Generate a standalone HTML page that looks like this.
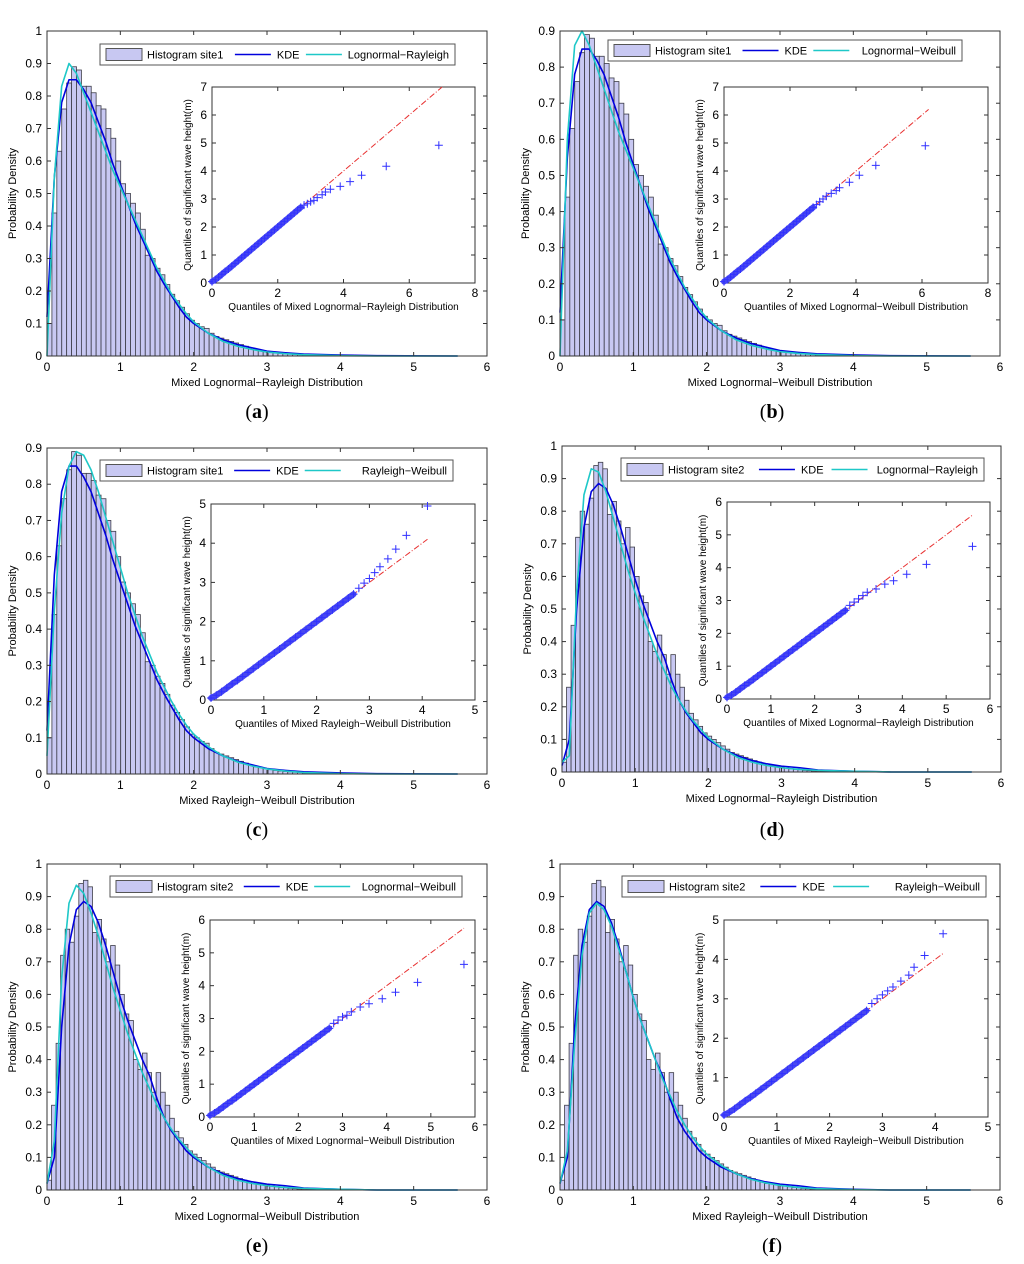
<!DOCTYPE html>
<html><head><meta charset="utf-8"><style>
body{margin:0;background:#fff;}
svg{display:block;font-family:"Liberation Sans",sans-serif;}
.cap{font-family:"Liberation Serif",serif;font-size:20px;}
</style></head><body>
<svg id="fig" width="1024" height="1264" viewBox="0 0 1024 1264"></svg>
<script>
// ---- data ----
const binWidthSite1 = 0.067;
const binWidthSite2 = 0.062;
const histSite1 = [0.10,0.44,0.63,0.76,0.84,0.89,0.88,0.83,0.83,0.81,0.77,0.76,0.70,0.67,0.60,0.53,0.50,0.47,0.44,0.39,0.31,0.30,0.27,0.25,0.22,0.19,0.17,0.15,0.13,0.11,0.10,0.09,0.085,0.07,0.06,0.055,0.05,0.045,0.04,0.035,0.03,0.025,0.02,0.018,0.015,0.012,0.01,0.008,0.007,0.006,0.005,0.004,0.003,0.003,0.002,0.002,0.002,0.001,0.001,0.001,0.001];
const histSite2 = [0.03,0.26,0.45,0.72,0.80,0.76,0.84,0.94,0.95,0.93,0.79,0.83,0.77,0.70,0.75,0.69,0.60,0.54,0.52,0.40,0.37,0.42,0.36,0.30,0.36,0.30,0.26,0.22,0.18,0.16,0.14,0.12,0.11,0.10,0.09,0.08,0.07,0.06,0.055,0.05,0.045,0.04,0.035,0.03,0.025,0.02,0.02,0.018,0.015,0.012,0.01,0.008,0.007,0.005,0.004,0.003,0.003,0.002,0.002,0.001,0.001,0.001];
const curveX = [0,.1,.2,.3,.4,.5,.6,.7,.8,.9,1,1.1,1.2,1.3,1.4,1.5,1.6,1.7,1.8,1.9,2,2.2,2.4,2.6,2.8,3,3.25,3.5,4,4.5,5.6];
const kde1 = [.12,.55,.78,.85,.85,.82,.78,.72,.66,.59,.53,.47,.41,.36,.31,.26,.22,.185,.15,.12,.10,.07,.05,.035,.025,.015,.01,.006,.003,.001,0];
const kde2 = [.02,.1,.5,.75,.86,.885,.87,.82,.75,.67,.59,.52,.46,.40,.35,.28,.22,.18,.15,.12,.10,.07,.05,.035,.025,.018,.013,.006,.002,0,0];
const fitA = [0,.55,.83,.90,.87,.81,.75,.69,.63,.57,.52,.47,.42,.37,.32,.27,.23,.19,.16,.13,.105,.07,.045,.03,.02,.012,.007,.004,.001,0,0];
const fitB = [0,.6,.86,.90,.86,.80,.74,.68,.62,.57,.52,.47,.42,.37,.32,.27,.23,.19,.16,.13,.105,.07,.045,.03,.02,.012,.007,.004,.001,0,0];
const fitC = [.05,.45,.72,.85,.89,.88,.84,.78,.71,.64,.57,.50,.44,.38,.33,.28,.24,.20,.165,.135,.11,.075,.05,.033,.022,.014,.008,.004,.001,0,0];
const fitD = [.03,.05,.55,.85,.93,.92,.86,.78,.70,.62,.55,.48,.42,.36,.31,.26,.22,.185,.155,.13,.105,.07,.045,.03,.02,.013,.008,.005,.002,0,0];
const fitE = [.02,.15,.65,.88,.935,.91,.85,.78,.70,.62,.55,.48,.42,.36,.31,.26,.22,.185,.155,.13,.105,.07,.045,.03,.02,.013,.008,.005,.002,0,0];
const fitF = [.02,.12,.45,.72,.85,.88,.86,.81,.74,.67,.59,.52,.46,.40,.34,.29,.24,.20,.165,.135,.11,.075,.05,.033,.022,.014,.008,.004,.001,0,0];
const qqDenseX = [0,.1,.2,.3,.4,.5,.6,.7,.8,.9,1,1.1,1.2,1.3,1.4,1.5,1.6,1.7,1.8,1.9,2,2.1,2.2,2.3,2.4,2.5,2.6,2.7];
const qqDenseY = [0.05,.12,.21,.31,.41,.5,.6,.7,.8,.9,1,1.1,1.2,1.3,1.4,1.5,1.6,1.7,1.8,1.9,2,2.1,2.2,2.3,2.4,2.5,2.6,2.7];
const qqTailAx = [2.8,2.9,3.0,3.1,3.2,3.35,3.45,3.6,3.9,4.2,4.55,5.3,6.9];
const qqTailAy = [2.78,2.83,2.9,2.95,3.05,3.15,3.25,3.35,3.45,3.62,3.85,4.17,4.92];
const qqTailBx = [2.8,2.9,3.0,3.1,3.25,3.4,3.5,3.8,4.1,4.6,6.1];
const qqTailBy = [2.8,2.9,3.0,3.1,3.2,3.3,3.4,3.6,3.85,4.2,4.9];
const qqTailCx = [2.8,2.9,3.0,3.1,3.2,3.35,3.5,3.7,4.1];
const qqTailCy = [2.85,2.98,3.1,3.25,3.4,3.6,3.85,4.2,4.95];
const qqTailDx = [2.8,2.9,3.0,3.1,3.2,3.4,3.6,3.8,4.1,4.55,5.6];
const qqTailDy = [2.85,2.95,3.05,3.15,3.25,3.35,3.5,3.6,3.8,4.1,4.65];
const qqTailEx = [2.8,2.9,3.0,3.1,3.2,3.4,3.6,3.9,4.2,4.7,5.75];
const qqTailEy = [2.85,2.95,3.05,3.1,3.2,3.35,3.45,3.6,3.8,4.1,4.65];
const qqTailFx = [2.8,2.9,3.0,3.1,3.2,3.35,3.5,3.6,3.8,4.15];
const qqTailFy = [2.88,3.0,3.1,3.2,3.3,3.45,3.6,3.8,4.1,4.65];

const panels = [
 {id:'a',box:[47,31,487,356],yMax:1,hist:histSite1,bw:binWidthSite1,site:'site1',kde:kde1,fit:fitA,fitName:'Lognormal-Rayleigh',xl:'Mixed Lognormal\u2212Rayleigh Distribution',leg:[100,44,455,65],inset:[212,87,475,283],ix:8,iy:7,tx:qqTailAx,ty:qqTailAy,ref:7,iname:'Quantiles of Mixed Lognormal\u2212Rayleigh Distribution',cap:[257,418]},
 {id:'b',box:[560,31,1000,356],yMax:0.9,hist:histSite1,bw:binWidthSite1,site:'site1',kde:kde1,fit:fitB,fitName:'Lognormal-Weibull',xl:'Mixed Lognormal\u2212Weibull Distribution',leg:[608,40,962,61],inset:[724,87,988,283],ix:8,iy:7,tx:qqTailBx,ty:qqTailBy,ref:6.2,iname:'Quantiles of Mixed Lognormal\u2212Weibull Distribution',cap:[772,418]},
 {id:'c',box:[47,448,487,774],yMax:0.9,hist:histSite1,bw:binWidthSite1,site:'site1',kde:kde1,fit:fitC,fitName:'Rayleigh-Weibull',xl:'Mixed Rayleigh\u2212Weibull Distribution',leg:[100,460,453,481],inset:[211,504,475,700],ix:5,iy:5,tx:qqTailCx,ty:qqTailCy,ref:4.1,iname:'Quantiles of Mixed Rayleigh\u2212Weibull Distribution',cap:[257,836]},
 {id:'d',box:[562,446,1001,772],yMax:1,hist:histSite2,bw:binWidthSite2,site:'site2',kde:kde2,fit:fitD,fitName:'Lognormal-Rayleigh',xl:'Mixed Lognormal\u2212Rayleigh Distribution',leg:[621,458,984,481],inset:[727,502,990,699],ix:6,iy:6,tx:qqTailDx,ty:qqTailDy,ref:5.6,iname:'Quantiles of Mixed Lognormal\u2212Rayleigh Distribution',cap:[772,836]},
 {id:'e',box:[47,864,487,1190],yMax:1,hist:histSite2,bw:binWidthSite2,site:'site2',kde:kde2,fit:fitE,fitName:'Lognormal-Weibull',xl:'Mixed Lognormal\u2212Weibull Distribution',leg:[110,876,462,897],inset:[210,920,475,1117],ix:6,iy:6,tx:qqTailEx,ty:qqTailEy,ref:5.75,iname:'Quantiles of Mixed Lognormal\u2212Weibull Distribution',cap:[257,1252]},
 {id:'f',box:[560,864,1000,1190],yMax:1,hist:histSite2,bw:binWidthSite2,site:'site2',kde:kde2,fit:fitF,fitName:'Rayleigh-Weibull',xl:'Mixed Rayleigh\u2212Weibull Distribution',leg:[622,876,986,897],inset:[724,920,988,1117],ix:5,iy:5,tx:qqTailFx,ty:qqTailFy,ref:4.15,iname:'Quantiles of Mixed Rayleigh\u2212Weibull Distribution',cap:[772,1252]}
];

const NS='http://www.w3.org/2000/svg';
const fig=document.getElementById('fig');
function mk(tag,attrs,parent,text){const e=document.createElementNS(NS,tag);for(const k in attrs)e.setAttribute(k,attrs[k]);if(text!==undefined)e.textContent=text;(parent||fig).appendChild(e);return e;}
function fmt(v){return (Math.round(v*10)/10).toString();}

panels.forEach(p=>{
  const g=mk('g',{});
  
  
  const [x0,y0,x1,y1]=p.box;
  const sx=v=>x0+(v/6)*(x1-x0);
  const sy=v=>y1-(v/p.yMax)*(y1-y0);
  const bars=mk('g',{},g);
  
  
  p.hist.forEach((h,i)=>{
    const r=mk('rect',{x:sx(i*p.bw),y:sy(h),width:sx(p.bw)-sx(0),height:sy(0)-sy(h),fill:'#c8c8f2',stroke:'#3c3c48','stroke-width':0.8},bars);
    
    
  });
  const line=(ys,color,name,w)=>{
    const pts=curveX.map((x,i)=>sx(x)+','+sy(ys[i])).join(' ');
    const l=mk('polyline',{points:pts,fill:'none',stroke:color,'stroke-width':w,'stroke-linejoin':'round'},g);
    
    
  };
  line(p.kde,'#0000dd','kde-curve',1.6);
  line(p.fit,'#1ec8c8','fit-curve',1.6);
  const ax=mk('rect',{x:x0,y:y0,width:x1-x0,height:y1-y0,fill:'none',stroke:'#333','stroke-width':1},g);
  
  
  for(let t=0;t<=6;t++){
    mk('line',{x1:sx(t),x2:sx(t),y1:y1,y2:y1-4,stroke:'#333'},g);
    mk('line',{x1:sx(t),x2:sx(t),y1:y0,y2:y0+4,stroke:'#333'},g);
    const tl=mk('text',{x:sx(t),y:y1+15,'font-size':12,'text-anchor':'middle'},g,String(t));
    
    
  }
  const nY=Math.round(p.yMax*10);
  for(let k=0;k<=nY;k++){
    const v=k/10;
    mk('line',{x1:x0,x2:x0+4,y1:sy(v),y2:sy(v),stroke:'#333'},g);
    mk('line',{x1:x1,x2:x1-4,y1:sy(v),y2:sy(v),stroke:'#333'},g);
    const tl=mk('text',{x:x0-5,y:sy(v)+4,'font-size':12,'text-anchor':'end'},g,fmt(v));
    
    
  }
  const xt=mk('text',{x:(x0+x1)/2,y:y1+30,'font-size':11,'text-anchor':'middle'},g,p.xl);
  
  
  const yt=mk('text',{x:0,y:0,'font-size':11,'text-anchor':'middle',transform:`translate(${x0-31},${(y0+y1)/2}) rotate(-90)`},g,'Probability Density');
  
  
  const [lx0,ly0,lx1,ly1]=p.leg;
  const lg=mk('g',{},g);
  
  
  mk('rect',{x:lx0,y:ly0,width:lx1-lx0,height:ly1-ly0,fill:'#fff',stroke:'#555'},lg);
  const lw=lx1-lx0, cy=(ly0+ly1)/2;
  mk('rect',{x:lx0+6,y:cy-6,width:36,height:12,fill:'#c8c8f2',stroke:'#555'},lg);
  mk('text',{x:lx0+47,y:cy+4,'font-size':11},lg,'Histogram '+p.site);
  const k1=lx0+lw*0.38;
  mk('line',{x1:k1,x2:k1+36,y1:cy,y2:cy,stroke:'#0000dd','stroke-width':1.6},lg);
  mk('text',{x:k1+42,y:cy+4,'font-size':11},lg,'KDE');
  const k2=lx0+lw*0.58;
  mk('line',{x1:k2,x2:k2+36,y1:cy,y2:cy,stroke:'#1ec8c8','stroke-width':1.6},lg);
  mk('text',{x:lx1-6,y:cy+4,'font-size':11,'text-anchor':'end'},lg,p.fitName.replace('-','\u2212'));
  const [ix0,iy0,ix1,iy1]=p.inset;
  const ig=mk('g',{},g);
  
  
  const qx=v=>ix0+(v/p.ix)*(ix1-ix0);
  const qy=v=>iy1-(v/p.iy)*(iy1-iy0);
  mk('rect',{x:ix0,y:iy0,width:ix1-ix0,height:iy1-iy0,fill:'#fff',stroke:'#333'},ig);
  const step=p.ix===8?2:1;
  for(let t=0;t<=p.ix;t+=step){
    mk('line',{x1:qx(t),x2:qx(t),y1:iy1,y2:iy1-4,stroke:'#333'},ig);
    mk('line',{x1:qx(t),x2:qx(t),y1:iy0,y2:iy0+4,stroke:'#333'},ig);
    mk('text',{x:qx(t),y:iy1+14,'font-size':12,'text-anchor':'middle'},ig,String(t));
  }
  for(let t=0;t<=p.iy;t++){
    mk('line',{x1:ix0,x2:ix0+4,y1:qy(t),y2:qy(t),stroke:'#333'},ig);
    mk('line',{x1:ix1,x2:ix1-4,y1:qy(t),y2:qy(t),stroke:'#333'},ig);
    mk('text',{x:ix0-5,y:qy(t)+4,'font-size':12,'text-anchor':'end'},ig,String(t));
  }
  const ref=mk('line',{x1:qx(0),y1:qy(0),x2:qx(p.ref),y2:qy(p.ref),stroke:'#e83030','stroke-width':1,'stroke-dasharray':'6,2,1,2'},ig);
  
  
  const allX=qqDenseX.concat(p.tx), allY=qqDenseY.concat(p.ty);
  const dense=qqDenseX.length;
  allX.forEach((x,i)=>{
    const px=qx(x),py=qy(allY[i]);
    if(i<dense-1){
      const l=mk('line',{x1:px,y1:py,x2:qx(allX[i+1]),y2:qy(allY[i+1]),stroke:'#4848f0','stroke-width':6,'stroke-linecap':'round'},ig);
      
      
    }
    const m=mk('path',{d:`M${px-4},${py}H${px+4}M${px},${py-4}V${py+4}`,stroke:'#3030ff','stroke-width':1},ig);
    
    
  });
  const ixt=mk('text',{x:(ix0+ix1)/2,y:iy1+27,'font-size':10,'text-anchor':'middle'},ig,p.iname);
  
  
  const iyt=mk('text',{x:0,y:0,'font-size':10,'text-anchor':'middle',transform:`translate(${ix0-21},${(iy0+iy1)/2}) rotate(-90)`},ig,'Quantiles of significant wave height(m)');
  
  
  const cap=mk('text',{x:p.cap[0],y:p.cap[1],'text-anchor':'middle',class:'cap'},g);
  
  
  mk('tspan',{},cap,'(');
  mk('tspan',{'font-weight':'bold'},cap,p.id);
  mk('tspan',{},cap,')');
});
</script>
</body></html>
